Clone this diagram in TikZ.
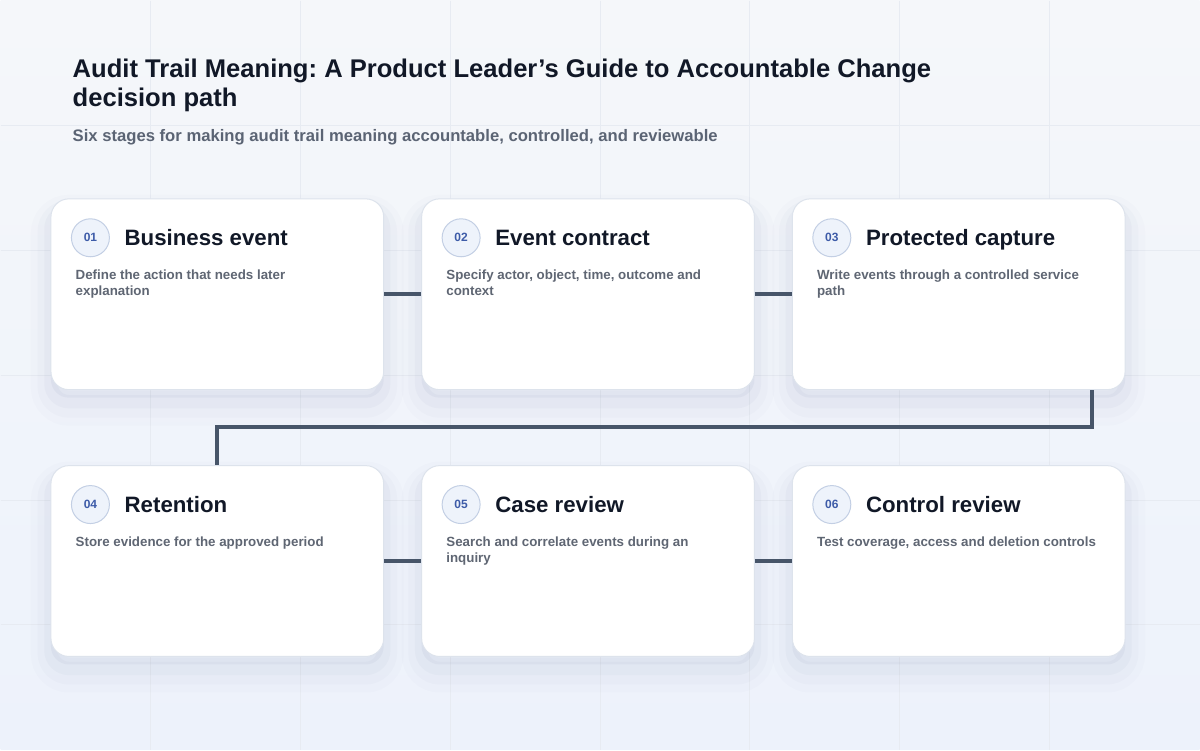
\documentclass[tikz,border=0pt]{standalone}
\usepackage{fontspec}
\setmainfont{Liberation Sans}
\usepackage{tikz}
\frenchspacing

\definecolor{bgtop}{HTML}{F5F7FA}
\definecolor{bgbottom}{HTML}{EDF2FB}
\definecolor{gridc}{HTML}{E7EBF2}
\definecolor{cardline}{HTML}{DDE3EC}
\definecolor{ink}{HTML}{111827}
\definecolor{slate}{HTML}{5B6474}
\definecolor{descc}{HTML}{5F6673}
\definecolor{badgefill}{HTML}{EEF3FB}
\definecolor{badgeline}{HTML}{C3CFE4}
\definecolor{badgeink}{HTML}{3D5BA8}
\definecolor{linkc}{HTML}{475569}
\definecolor{shadowc}{HTML}{7D8AAB}

\tikzstyle{card} = [rectangle, draw=cardline, line width=0.75pt, fill=white, rounded corners=13.5pt, minimum width=249.75pt, minimum height=143.25pt, anchor=north west, inner sep=0pt,
    preaction={draw=shadowc, line width=30pt, draw opacity=0.025, transform canvas={yshift=-12pt}},
    preaction={draw=shadowc, line width=20pt, draw opacity=0.035, transform canvas={yshift=-11pt}},
    preaction={draw=shadowc, line width=10pt, draw opacity=0.05, transform canvas={yshift=-9pt}},
    preaction={fill=shadowc, fill opacity=0.08, transform canvas={yshift=-6pt}}]
\tikzstyle{badge} = [circle, draw=badgeline, line width=0.75pt, fill=badgefill, minimum size=28.5pt, inner sep=0pt, text=badgeink, font=\bfseries\fontsize{9}{10}\selectfont]
\tikzstyle{cardtitle} = [anchor=base west, inner sep=0pt, text=ink, font=\bfseries\fontsize{16.7}{19}\selectfont]
\tikzstyle{desc} = [anchor=north west, inner sep=0pt, align=left, text=descc, font=\bfseries\fontsize{10}{12}\selectfont]
\tikzstyle{link} = [line width=3pt, draw=linkc]

\begin{document}
\begin{tikzpicture}[x=0.75pt, y=-0.75pt]

% Background
\shade [top color=bgtop, bottom color=bgbottom] (0,0) rectangle (1200,750);
\foreach \gx in {150,300,...,1050} \draw [gridc, line width=0.75pt] (\gx,0) -- (\gx,750);
\foreach \gy in {125,250,...,625} \draw [gridc, line width=0.75pt] (0,\gy) -- (1200,\gy);
\useasboundingbox (0,0) rectangle (1200,750);

% Heading
\node (title) [anchor=base west, inner sep=0pt, align=left, text=ink, font=\bfseries\fontsize{19.2}{21.75}\selectfont] at (72,106)
    {Audit Trail Meaning: A Product Leader’s Guide to Accountable Change\\decision path};
\node (subtitle) [anchor=base west, inner sep=0pt, text=slate, font=\bfseries\fontsize{12.5}{14}\selectfont] at (72,141)
    {Six stages for making audit trail meaning accountable, controlled, and reviewable};

% Cards
\node (card1) [card] at (50,198) {};
\node (card2) [card] at (421,198) {};
\node (card3) [card] at (792,198) {};
\node (card4) [card] at (50,465) {};
\node (card5) [card] at (421,465) {};
\node (card6) [card] at (792,465) {};

% Connectors
\coordinate (bend) at (1092,427);
\draw [link] (card1) -- (card2);
\draw [link] (card2) -- (card3);
\draw [link] (card3.south -| bend) -- (bend) -| (card4.north);
\draw [link] (card4) -- (card5);
\draw [link] (card5) -- (card6);

% Card contents
\node (num1) [badge] at ([xshift=30pt, yshift=-29.6pt]card1.north west) {01};
\node (head1) [cardtitle] at ([xshift=55.5pt, yshift=-35.2pt]card1.north west) {Business event};
\node (text1) [desc] at ([xshift=18.75pt, yshift=-53.5pt]card1.north west) {Define the action that needs later\\explanation};

\node (num2) [badge] at ([xshift=30pt, yshift=-29.6pt]card2.north west) {02};
\node (head2) [cardtitle] at ([xshift=55.5pt, yshift=-35.2pt]card2.north west) {Event contract};
\node (text2) [desc] at ([xshift=18.75pt, yshift=-53.5pt]card2.north west) {Specify actor, object, time, outcome and\\context};

\node (num3) [badge] at ([xshift=30pt, yshift=-29.6pt]card3.north west) {03};
\node (head3) [cardtitle] at ([xshift=55.5pt, yshift=-35.2pt]card3.north west) {Protected capture};
\node (text3) [desc] at ([xshift=18.75pt, yshift=-53.5pt]card3.north west) {Write events through a controlled service\\path};

\node (num4) [badge] at ([xshift=30pt, yshift=-29.6pt]card4.north west) {04};
\node (head4) [cardtitle] at ([xshift=55.5pt, yshift=-35.2pt]card4.north west) {Retention};
\node (text4) [desc] at ([xshift=18.75pt, yshift=-53.5pt]card4.north west) {Store evidence for the approved period};

\node (num5) [badge] at ([xshift=30pt, yshift=-29.6pt]card5.north west) {05};
\node (head5) [cardtitle] at ([xshift=55.5pt, yshift=-35.2pt]card5.north west) {Case review};
\node (text5) [desc] at ([xshift=18.75pt, yshift=-53.5pt]card5.north west) {Search and correlate events during an\\inquiry};

\node (num6) [badge] at ([xshift=30pt, yshift=-29.6pt]card6.north west) {06};
\node (head6) [cardtitle] at ([xshift=55.5pt, yshift=-35.2pt]card6.north west) {Control review};
\node (text6) [desc] at ([xshift=18.75pt, yshift=-53.5pt]card6.north west) {Test coverage, access and deletion controls};

\end{tikzpicture}
\end{document}
